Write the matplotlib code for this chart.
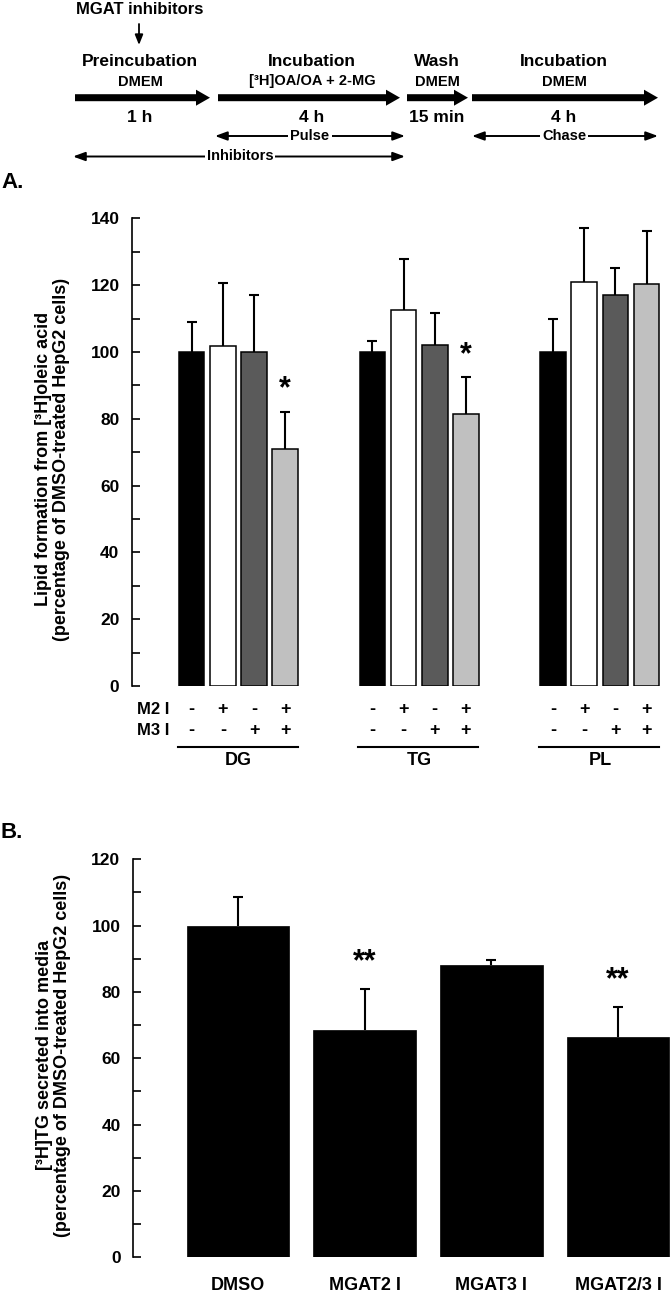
import matplotlib
matplotlib.use("Agg")
import matplotlib.pyplot as plt
from matplotlib.patches import FancyArrow
from matplotlib.ticker import MultipleLocator
import numpy as np

plt.rcParams['font.family'] = ['Liberation Sans', 'DejaVu Sans']
plt.rcParams['font.weight'] = 'bold'

# ---------------- data ----------------
groups = ["DG", "TG", "PL"]
treat_m2 = ["-", "+", "-", "+"]
treat_m3 = ["-", "-", "+", "+"]
bar_colors = ["#000000", "#ffffff", "#5a5a5a", "#c0c0c0"]

dg_vals = [100, 101.7, 100, 71]
dg_errs = [9, 18.9, 17, 11.2]
tg_vals = [100, 112.7, 102, 81.4]
tg_errs = [3.4, 15.2, 9.6, 11]
pl_vals = [100, 121, 117, 120.5]
pl_errs = [10, 16.3, 8.3, 15.8]
a_sig = [[False, False, False, True], [False, False, False, True], [False, False, False, False]]

b_labels = ["DMSO", "MGAT2 I", "MGAT3 I", "MGAT2/3 I"]
b_vals = [100, 68.5, 88, 66.5]
b_errs = [8.5, 12.5, 1.6, 9]
b_sig = ["", "**", "", "**"]

W, H = 670, 1301
fig = plt.figure(figsize=(W / 100, H / 100), dpi=100)

def fx(px):
    return px / W

def fy(py):
    return 1 - py / H

def up_err(ax, xs, vals, errs):
    eb = ax.errorbar(xs, vals, yerr=[np.zeros(len(vals)), errs], fmt='none', ecolor='black',
                     elinewidth=1.5, capsize=3.3, capthick=1.5, zorder=1)
    caps = eb[1]
    if len(caps) == 2:
        caps[0].set_visible(False)

# ---------------- diagram (overlay axes in pixel coordinates) ----------------
ov = fig.add_axes([0, 0, 1, 1])
ov.set_xlim(0, W)
ov.set_ylim(H, 0)
ov.axis('off')

ov.text(140, 10, "MGAT inhibitors", ha='center', va='center', fontsize=12, fontweight='bold')
ov.annotate('', xy=(139, 45), xytext=(139, 24),
            arrowprops=dict(arrowstyle='-|>,head_length=0.5,head_width=0.2', lw=1.3, color='black',
                            mutation_scale=12, shrinkA=0, shrinkB=0))

stages = [
    (75, 210, 140, "Preincubation", "DMEM", "1 h"),
    (218, 400, 312, "Incubation", "[³H]OA/OA + 2-MG", "4 h"),
    (407, 468, 437, "Wash", "DMEM", "15 min"),
    (472, 658, 564, "Incubation", "DMEM", "4 h"),
]
for x0, x1, xc, t1, t2, t3 in stages:
    ov.add_patch(FancyArrow(x0, 97.7, x1 - x0, 0, width=7, head_width=16, head_length=14,
                            length_includes_head=True, color='black', lw=0))
    ov.text(xc, 62, t1, ha='center', va='center', fontsize=12.5, fontweight='bold')
    ov.text(xc, 81.5, t2, ha='center', va='center', fontsize=10.5, fontweight='bold')
    ov.text(xc, 118, t3, ha='center', va='center', fontsize=12.5, fontweight='bold')

def dbl(x0, x1, y, label, xc):
    ov.annotate('', xy=(x1, y), xytext=(x0, y),
                arrowprops=dict(arrowstyle='<|-|>,head_length=0.6,head_width=0.22', lw=1.4,
                                color='black', mutation_scale=12, shrinkA=0, shrinkB=0))
    ov.text(xc, y, label, ha='center', va='center', fontsize=10.5, fontweight='bold',
            bbox=dict(facecolor='white', edgecolor='none', pad=1.5))

dbl(215, 405, 136, "Pulse", 310)
dbl(472, 658, 136, "Chase", 564)
dbl(73, 405, 156.5, "Inhibitors", 240)

ov.text(1, 183, "A.", ha='left', va='center', fontsize=16, fontweight='bold')
ov.text(1, 832, "B.", ha='left', va='center', fontsize=16, fontweight='bold')

# ---------------- panel A ----------------
a_left, a_right, a_top, a_bot = 132, 668, 218.5, 686
axA = fig.add_axes([fx(a_left), fy(a_bot), fx(a_right - a_left), (a_bot - a_top) / H])
group_gap = 5.793
all_vals = [dg_vals, tg_vals, pl_vals]
all_errs = [dg_errs, tg_errs, pl_errs]
trans = axA.get_xaxis_transform()
hA = a_bot - a_top
for g, (vals, errs) in enumerate(zip(all_vals, all_errs)):
    xs = g * group_gap + np.arange(4)
    up_err(axA, xs, vals, errs)
    axA.bar(xs, vals, width=0.82, color=bar_colors, edgecolor='black', linewidth=1.1, zorder=2)
    for i in range(4):
        if a_sig[g][i]:
            axA.annotate('*', xy=(xs[i], vals[i] + errs[i]), xytext=(0, 16),
                         textcoords='offset points', ha='center', va='center',
                         fontsize=22, fontweight='bold')
    for i in range(4):
        axA.text(xs[i], -24 / hA, treat_m2[i], transform=trans, ha='center', va='center',
                 fontsize=13, fontweight='bold')
        axA.text(xs[i], -45 / hA, treat_m3[i], transform=trans, ha='center', va='center',
                 fontsize=13, fontweight='bold')
    axA.plot([xs[0] - 0.45, xs[-1] + 0.4], [-60.7 / hA] * 2, transform=trans, color='black',
             lw=1.5, clip_on=False)
    axA.text(xs.mean(), -75 / hA, groups[g], transform=trans, ha='center', va='center',
             fontsize=13, fontweight='bold')

axA.text(-0.72, -24 / hA, "M2 I", transform=trans, ha='right', va='center', fontsize=12,
         fontweight='bold')
axA.text(-0.72, -45 / hA, "M3 I", transform=trans, ha='right', va='center', fontsize=12,
         fontweight='bold')

axA.set_xlim(-1.913, 15.27)
axA.set_ylim(0, 140)

# ---------------- panel B ----------------
b_left, b_right, b_top, b_bot = 133, 670, 859.3, 1257.3
axB = fig.add_axes([fx(b_left), fy(b_bot), fx(b_right - b_left), (b_bot - b_top) / H])
xb = np.arange(len(b_labels))
up_err(axB, xb, b_vals, b_errs)
axB.bar(xb, b_vals, width=0.81, color='black', edgecolor='black', linewidth=0.5, zorder=2)
for i in range(4):
    if b_sig[i]:
        axB.annotate(b_sig[i], xy=(xb[i], b_vals[i] + b_errs[i]), xytext=(0, 19),
                     textcoords='offset points', ha='center', va='center',
                     fontsize=22, fontweight='bold')
axB.set_xticks(xb)
axB.set_xticklabels(b_labels, fontsize=13, fontweight='bold')
axB.tick_params(axis='x', length=0, pad=14)
axB.set_xlim(-0.829, 3.41)
axB.set_ylim(0, 120)

for ax in (axA, axB):
    for s in ('top', 'right', 'bottom'):
        ax.spines[s].set_visible(False)
    ax.spines['left'].set_linewidth(1.2)
    ax.yaxis.set_major_locator(MultipleLocator(20))
    ax.yaxis.set_minor_locator(MultipleLocator(10))
    ax.tick_params(axis='y', which='both', direction='in', length=6, width=1.2, pad=9,
                   labelsize=12.5)
    for lab in ax.get_yticklabels():
        lab.set_fontweight('bold')
    ax.patch.set_alpha(0)
axA.set_xticks([])

fig.text(fx(52.5), fy(459), "Lipid formation from [³H]oleic acid\n(percentage of DMSO-treated HepG2 cells)",
         rotation=90, ha='center', va='center', fontsize=13, fontweight='bold', linespacing=1.15)
fig.text(fx(53.5), fy(1055), "[³H]TG secreted into media\n(percentage of DMSO-treated HepG2 cells)",
         rotation=90, ha='center', va='center', fontsize=13, fontweight='bold', linespacing=1.15)

fig.savefig("out.png", dpi=100)
